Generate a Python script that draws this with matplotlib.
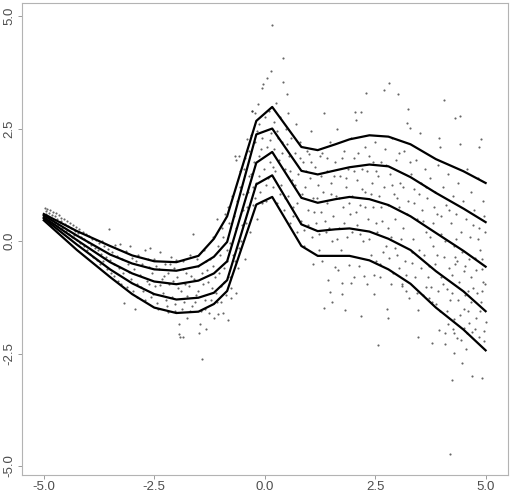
import matplotlib
matplotlib.use('Agg')
import matplotlib.pyplot as plt

# knot positions of the five quantile curves
knot_x = [-5.0, -4.25, -3.5, -3.0, -2.5, -2.0, -1.5, -1.15, -0.85, -0.19, 0.17,
          0.83, 1.2, 1.6, 1.92, 2.37, 2.8, 3.3, 3.875, 4.5, 5.0]
q1 = [0.60, 0.22, -0.11, -0.32, -0.45, -0.47, -0.33, 0.05, 0.55, 2.67, 2.98,
      2.09, 2.02, 2.15, 2.26, 2.35, 2.32, 2.15, 1.82, 1.55, 1.29]
q2 = [0.57, 0.12, -0.30, -0.50, -0.63, -0.66, -0.56, -0.35, -0.02, 2.37, 2.50,
      1.56, 1.48, 1.57, 1.64, 1.70, 1.66, 1.42, 1.07, 0.72, 0.42]
q3 = [0.53, 0.02, -0.47, -0.72, -0.90, -0.96, -0.88, -0.72, -0.45, 1.74, 1.98,
      0.96, 0.85, 0.93, 0.98, 0.93, 0.80, 0.55, 0.18, -0.22, -0.57]
q4 = [0.50, -0.08, -0.63, -0.94, -1.18, -1.30, -1.26, -1.15, -0.87, 1.26, 1.46,
      0.37, 0.22, 0.26, 0.28, 0.21, 0.05, -0.20, -0.67, -1.12, -1.56]
q5 = [0.46, -0.20, -0.80, -1.18, -1.48, -1.60, -1.57, -1.40, -1.11, 0.81, 0.98,
      -0.11, -0.33, -0.33, -0.33, -0.43, -0.63, -0.95, -1.48, -1.97, -2.43]
curves = [q1, q2, q3, q4, q5]

# scatter points, estimated by eye
pts_left = [
    (-4.98, 0.74), (-4.95, 0.66), (-4.92, 0.71), (-4.88, 0.62), (-4.85, 0.69), (-4.82, 0.58),
    (-4.79, 0.65), (-4.75, 0.55), (-4.72, 0.63), (-4.70, 0.49), (-4.66, 0.57), (-4.62, 0.52),
    (-4.60, 0.44), (-4.55, 0.50), (-4.52, 0.38), (-4.48, 0.45), (-4.45, 0.33), (-4.41, 0.41),
    (-4.38, 0.28), (-4.35, 0.36), (-4.30, 0.22), (-4.27, 0.31), (-4.22, 0.18), (-4.20, 0.27),
    (-4.15, 0.10), (-4.12, 0.21), (-4.08, 0.05), (-4.05, 0.15), (-4.00, -0.02), (-3.97, 0.12),
    (-3.93, -0.08), (-3.90, 0.05), (-3.85, -0.15), (-3.82, 0.02), (-3.78, -0.20), (-3.75, -0.05),
    (-3.70, -0.28), (-3.68, 0.00), (-3.64, -0.12), (-3.60, -0.35), (-3.55, -0.18), (-3.52, 0.26),
    (-3.50, -0.42), (-3.46, -0.25), (-3.42, -0.50), (-3.38, -0.08), (-3.35, -0.33), (-3.30, -0.60),
    (-3.28, -0.06), (-3.24, -0.40), (-3.20, -0.70), (-3.18, -1.37), (-3.15, -0.22), (-3.10, -0.52),
    (-3.05, -0.10), (-3.02, -0.85), (-3.00, -0.38), (-2.96, -0.62), (-2.94, -1.52), (-2.90, -0.95),
    (-2.86, -0.30), (-2.82, -0.75), (-2.78, -0.50), (-2.75, -1.10), (-2.70, -0.20), (-2.67, -0.88),
    (-2.63, -0.58), (-2.60, -0.15), (-2.58, -1.25), (-2.55, -0.72), (-2.50, -0.40), (-2.48, -1.00),
    (-2.44, -1.38), (-2.40, -0.62), (-2.36, -0.25), (-2.33, -0.85), (-2.30, -1.15), (-2.26, -0.50),
    (-2.22, -1.45), (-2.20, -0.70), (-2.16, -0.95), (-2.12, -0.35), (-2.10, -1.25), (-2.05, -0.60),
    (-2.02, -1.55), (-1.98, -0.80), (-1.94, -1.84), (-1.94, -2.06), (-1.92, -2.13), (-1.90, -1.10),
    (-1.86, -2.13), (-1.85, -0.45), (-1.82, -1.35), (-1.78, -0.70), (-1.75, -1.70), (-1.72, -1.00),
    (-1.68, -0.30), (-1.65, -1.45), (-1.62, 0.15), (-1.60, -0.85), (-1.56, -1.20), (-1.52, -0.55),
    (-1.49, -2.04), (-1.47, -1.84), (-1.45, -1.55), (-1.43, -2.63), (-1.40, -0.95), (-1.38, -0.20),
    (-1.35, -1.30), (-1.32, -1.95), (-1.30, -0.65), (-1.27, -1.60), (-1.24, -0.40), (-1.20, -1.05),
    (-1.18, 0.10), (-1.14, -1.70), (-1.12, -0.80), (-1.09, 0.48), (-1.08, -1.35), (-1.05, -1.63),
    (-1.02, -0.30), (-1.00, -1.00), (-0.97, 0.30), (-0.95, -1.60), (-0.93, -0.60), (-0.90, 0.60),
    (-0.88, -1.20), (-0.85, -0.20), (-0.83, -1.76), (-0.80, 0.40), (-0.78, -0.80), (-0.77, -1.27),
    (-0.74, 1.00), (-0.72, -0.30), (-0.68, 1.89), (-0.66, -1.15), (-0.66, 1.79), (-0.64, 0.30),
    (-0.60, -0.60), (-0.58, 1.89), (-0.56, 1.20), (-0.53, 0.00), (-0.50, 0.70), (-0.47, 1.60),
    (-0.45, -0.40), (-0.42, 0.40), (-0.41, 2.26), (-0.38, 1.10), (-0.35, 2.00), (-0.33, 0.20),
    (-0.30, 1.50), (-0.29, 2.89), (-0.28, 2.90), (-0.26, 0.80), (-0.23, 2.85), (-0.22, 2.20),
    (-0.20, 1.30), (-0.17, 0.50), (-0.16, 3.04), (-0.14, 1.90), (-0.12, 2.60), (-0.10, 1.10),
    (-0.06, 3.41), (-0.05, 2.30), (-0.04, 3.48), (-0.02, 1.60),
]
# extra points filling the dense band on the left
pts_band = [
    (-4.96, 0.60), (-4.90, 0.55), (-4.86, 0.50), (-4.80, 0.47), (-4.74, 0.40), (-4.68, 0.35),
    (-4.64, 0.42), (-4.58, 0.28), (-4.50, 0.22), (-4.43, 0.15), (-4.36, 0.08), (-4.32, 0.14),
    (-4.25, 0.02), (-4.18, -0.05), (-4.10, -0.12), (-4.03, -0.20), (-3.96, -0.28), (-3.88, -0.35),
    (-3.80, -0.42), (-3.72, -0.52), (-3.66, -0.45), (-3.58, -0.62), (-3.48, -0.70), (-3.40, -0.78),
    (-3.33, -0.88), (-3.26, -0.95), (-3.12, -1.02), (-3.08, -0.68), (-2.98, -1.12), (-2.92, -0.45),
    (-2.88, -1.25), (-2.80, -1.02), (-2.72, -1.32), (-2.65, -0.40), (-2.61, -0.95), (-2.53, -1.18),
    (-2.46, -0.55), (-2.42, -1.52), (-2.38, -0.98), (-2.28, -0.78), (-2.24, -1.30), (-2.18, -1.58),
    (-2.14, -0.52), (-2.08, -0.88), (-2.04, -1.40), (-2.00, -0.42), (-1.96, -1.05), (-1.88, -1.50),
    (-1.84, -0.62), (-1.80, -0.95), (-1.76, -1.22), (-1.70, -1.55), (-1.66, -0.78), (-1.58, -1.35),
    (-1.54, -0.40), (-1.50, -1.10), (-1.42, -0.70), (-1.36, -1.50), (-1.33, -0.45), (-1.28, -0.90),
    (-1.22, -1.30), (-1.16, -0.55), (-1.10, -1.15), (-1.06, -0.10), (-1.03, -0.72), (-0.98, -1.35),
    (-0.94, 0.10), (-0.91, -0.92), (-0.86, -0.45), (-0.82, 0.75), (-0.79, -0.05), (-0.76, -1.05),
    (-0.70, 0.55), (-0.67, -0.45), (-0.62, 0.90), (-0.59, -0.15), (-0.55, 1.55), (-0.52, 0.35),
    (-0.48, 1.05), (-0.44, 1.85), (-0.40, 0.75), (-0.36, 1.45), (-0.32, 2.35), (-0.27, 1.20),
    (-0.25, 1.75), (-0.21, 0.95), (-0.18, 2.45), (-0.13, 1.45), (-0.09, 2.05), (-0.07, 0.85),
]
pts_mid = [
    (0.00, 2.75), (0.02, 0.90), (0.05, 3.62), (0.06, 2.10), (0.08, 1.40), (0.10, 2.90),
    (0.12, 1.75), (0.14, 3.78), (0.15, 2.40), (0.17, 4.80), (0.18, 1.20), (0.20, 2.65),
    (0.22, 2.05), (0.24, 1.55), (0.26, 3.07), (0.28, 0.85), (0.30, 2.30), (0.33, 1.80),
    (0.35, 2.75), (0.38, 1.25), (0.40, 2.20), (0.41, 4.07), (0.41, 3.53), (0.43, 0.70),
    (0.45, 1.60), (0.48, 2.50), (0.50, 3.27), (0.52, 1.00), (0.53, 2.84), (0.55, 1.90),
    (0.57, 0.40), (0.60, 2.30), (0.62, 1.35), (0.65, 0.75), (0.68, 1.95), (0.70, 2.60),
    (0.72, 0.20), (0.75, 1.50), (0.78, 1.05), (0.80, 2.20), (0.83, 0.45), (0.86, 1.75),
    (0.90, -0.10), (0.92, 1.20), (0.95, 2.00), (0.98, 0.70), (1.00, 1.93), (1.02, 1.40),
    (1.04, 2.44), (1.06, 0.10), (1.09, -0.50), (1.10, 0.95), (1.13, 1.65), (1.16, 0.40),
    (1.20, 1.25), (1.22, -0.20), (1.25, 1.90), (1.28, 0.65), (1.30, 1.96), (1.30, -0.44),
    (1.33, 1.10), (1.34, -1.48), (1.35, 2.84), (1.38, 0.20), (1.40, 1.55), (1.42, 0.85),
    (1.44, -0.87), (1.47, -1.13), (1.48, 2.20), (1.50, 1.30), (1.52, 0.00), (1.53, -1.35),
    (1.55, 0.55), (1.58, -0.58), (1.60, 1.75), (1.62, 1.00), (1.64, 2.50), (1.66, -0.65),
    (1.68, 0.30), (1.70, 1.45), (1.72, -0.20), (1.75, -0.94), (1.75, -1.17), (1.77, 0.75),
    (1.80, 2.00), (1.81, -1.53), (1.83, 1.20), (1.86, 0.10), (1.88, 1.60), (1.90, -0.53),
    (1.92, 0.60), (1.95, 2.30), (1.96, -0.94), (1.98, 1.00), (2.01, -0.80), (2.03, 1.85),
    (2.05, 2.87), (2.07, 2.70), (2.08, 0.35), (2.10, 1.35), (2.13, -0.56), (2.15, 0.80),
    (2.17, 2.87), (2.19, -1.67), (2.20, 1.60), (2.22, 0.00), (2.24, -0.78), (2.26, 2.10),
    (2.28, 1.10), (2.30, 3.30), (2.32, -0.96), (2.34, 0.50), (2.37, 1.90), (2.40, -0.30),
    (2.42, 1.30), (2.45, 0.75), (2.47, -0.76), (2.47, -1.17), (2.50, 2.20), (2.52, 1.55),
    (0.04, 1.25), (0.11, 2.25), (0.19, 1.65), (0.27, 2.45), (0.34, 1.05), (0.39, 1.95),
    (0.46, 0.95), (0.51, 2.15), (0.58, 1.55), (0.63, 0.55), (0.69, 1.25), (0.74, 0.85),
    (0.79, 1.85), (0.85, 1.05), (0.88, 0.25), (0.94, 1.55), (0.99, 0.35), (1.05, 1.75),
    (1.12, 0.65), (1.18, 0.95), (1.24, 0.15), (1.27, 1.45), (1.36, 0.45), (1.41, 1.85),
    (1.46, 0.30), (1.51, 1.05), (1.57, 1.45), (1.63, 0.05), (1.69, 0.95), (1.74, 1.85),
    (1.79, 0.40), (1.85, 1.40), (1.91, 0.85), (1.97, 0.20), (2.02, 1.55), (2.06, 0.65),
    (2.12, 1.95), (2.16, 0.15), (2.21, 1.15), (2.27, 0.75), (2.31, 1.55), (2.36, 0.05),
    (2.41, 1.05), (2.46, 1.75), (2.51, 0.40), (2.53, -0.45),
]
pts_right = [
    (2.54, 0.20), (2.56, -2.32), (2.58, 1.00), (2.60, -0.50), (2.62, -0.81), (2.64, 1.75),
    (2.66, 0.45), (2.69, 3.35), (2.70, 1.20), (2.72, 2.05), (2.75, -0.10), (2.77, -1.52),
    (2.78, -1.70), (2.80, 0.80), (2.81, -0.37), (2.81, 3.52), (2.83, 1.50), (2.86, 0.10),
    (2.88, 2.30), (2.90, -0.70), (2.92, 1.05), (2.95, 0.50), (2.97, 1.80), (3.00, -0.30),
    (3.01, 3.26), (3.03, -0.59), (3.05, 0.75), (3.07, 1.30), (3.10, -1.00), (3.11, -0.96),
    (3.13, 0.30), (3.15, 2.00), (3.18, -0.45), (3.20, -1.11), (3.22, 2.63), (3.24, 2.93),
    (3.25, 0.90), (3.27, -1.26), (3.28, 2.52), (3.30, 1.50), (3.33, -0.48), (3.35, 0.05),
    (3.38, 1.15), (3.40, -0.80), (3.42, 1.80), (3.45, 0.50), (3.46, -1.54), (3.48, -2.13),
    (3.50, -0.20), (3.52, 2.40), (3.53, 1.30), (3.55, 0.70), (3.58, -1.20), (3.60, -0.30),
    (3.62, 1.60), (3.65, 0.20), (3.66, -1.02), (3.68, 0.95), (3.71, -1.26), (3.72, -0.55),
    (3.75, 1.40), (3.77, -1.02), (3.78, -2.27), (3.80, 0.40), (3.82, -0.10), (3.85, 1.10),
    (3.86, -0.50), (3.88, -1.40), (3.90, 0.60), (3.92, 1.70), (3.94, 2.30), (3.95, -1.98),
    (3.97, 2.09), (3.97, -1.56), (3.98, -0.80), (4.00, 0.15), (4.03, 1.20), (4.05, -0.35),
    (4.06, 3.14), (4.07, -2.28), (4.09, -2.04), (4.10, 0.80), (4.12, -1.07), (4.14, 1.50),
    (4.16, -1.85), (4.18, -0.60), (4.20, -1.32), (4.20, -4.74), (4.22, 0.40), (4.24, -3.10),
    (4.24, -1.15), (4.26, 1.00), (4.28, -0.10), (4.29, -2.04), (4.29, -1.74), (4.29, -2.49),
    (4.31, -0.52), (4.31, 2.74), (4.31, -0.36), (4.33, 0.60), (4.35, -2.16), (4.37, -1.30),
    (4.38, 1.30), (4.40, -0.90), (4.41, 2.15), (4.42, 2.78), (4.44, 0.20), (4.45, -2.21),
    (4.46, -2.72), (4.48, 0.90), (4.50, -1.94), (4.50, -0.67), (4.52, -1.50), (4.54, -0.56),
    (4.55, -2.41), (4.56, 0.50), (4.58, 1.60), (4.60, -1.10), (4.61, -1.56), (4.63, -1.82),
    (4.64, 0.10), (4.66, -0.80), (4.68, 1.10), (4.69, -3.01), (4.70, -2.03), (4.72, -1.04),
    (4.74, 0.70), (4.76, -0.37), (4.78, -1.70), (4.80, -1.16), (4.82, 1.40), (4.84, 2.09),
    (4.85, -2.13), (4.86, 0.30), (4.88, -0.20), (4.89, 2.27), (4.90, -1.35), (4.91, -1.11),
    (4.91, -0.63), (4.91, -3.04), (4.93, 0.90), (4.95, -0.90), (4.97, -2.00), (4.97, -2.22),
    (4.98, 0.20), (4.99, -0.95), (5.00, -1.80),
    (2.57, 1.45), (2.63, 0.75), (2.68, -0.25), (2.74, 1.70), (2.79, 0.30), (2.85, -0.95),
    (2.89, 1.25), (2.94, -0.15), (2.99, 0.95), (3.04, 1.95), (3.09, 0.05), (3.14, 1.20),
    (3.19, -0.75), (3.23, 0.60), (3.29, 1.75), (3.34, -0.25), (3.39, 0.85), (3.44, -1.15),
    (3.49, 1.05), (3.54, -0.60), (3.59, 0.45), (3.64, 1.20), (3.69, -0.80), (3.74, 0.10),
    (3.79, -1.35), (3.84, 0.75), (3.89, -0.30), (3.93, -1.10), (3.99, 0.55), (4.04, -0.95),
    (4.08, 0.00), (4.13, -1.55), (4.17, 0.70), (4.23, -0.75), (4.27, -1.95), (4.32, 0.05),
    (4.36, -0.45), (4.43, -1.65), (4.47, -0.25), (4.53, -1.20), (4.57, -2.05), (4.62, -0.40),
    (4.67, -1.35), (4.71, 0.35), (4.75, -1.95), (4.79, -0.65), (4.83, 0.05), (4.87, -1.55),
    (4.92, -0.40), (4.96, 0.55),
]

x_ticks = [-5.0, -2.5, 0.0, 2.5, 5.0]
tick_labels = ['-5.0', '-2.5', '0.0', '2.5', '5.0']

plt.rcParams['font.family'] = ['Liberation Sans', 'DejaVu Sans']

fig = plt.figure(figsize=(5.12, 4.94), dpi=100)
ax = fig.add_axes([0.0424, 0.0385, 0.9492, 0.9554])

pts = pts_left + pts_band + pts_mid + pts_right
ax.scatter([p[0] for p in pts], [p[1] for p in pts], s=2.4, color='#333333',
           alpha=0.75, linewidths=0, zorder=1)
for q in curves:
    ax.plot(knot_x, q, color='black', linewidth=1.6, zorder=2)

ax.set_xlim(-5.5, 5.5)
ax.set_ylim(-5.2, 5.29)
ax.set_xticks(x_ticks)
ax.set_xticklabels(tick_labels)
ax.set_yticks(x_ticks)
ax.set_yticklabels(tick_labels, rotation=90, va='center')
ax.tick_params(axis='both', colors='#4d4d4d', labelsize=9.5, length=3,
               width=0.6, pad=1.5)
ax.tick_params(axis='both', color='#8c8c8c')
for sp in ax.spines.values():
    sp.set_color('#b3b3b3')
    sp.set_linewidth(0.8)

fig.savefig('out.png', dpi=100)
